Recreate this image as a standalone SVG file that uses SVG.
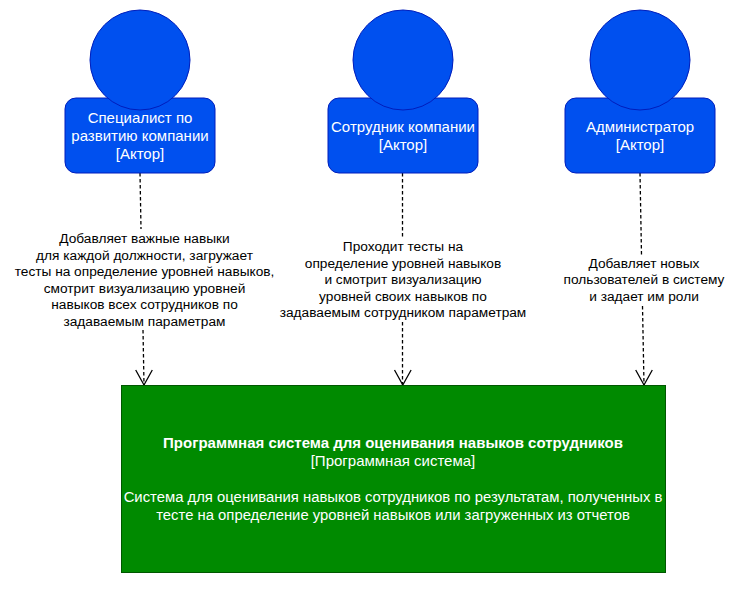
<svg xmlns="http://www.w3.org/2000/svg" width="741" height="595" viewBox="0 0 741 595">
<style>
text{font-family:"Liberation Sans",Arial,sans-serif;font-size:15px;text-anchor:middle}
.w{fill:#fff}.k{fill:#000;font-size:13.7px}.b{font-weight:bold}.d{font-size:14.85px}
.actor{fill:#0050ef;stroke:#001dbc;stroke-width:1}
.conn{fill:none;stroke:#000;stroke-width:1.300;stroke-dasharray:3.500 2.500}
.head{fill:none;stroke:#000;stroke-width:1.300}
</style>
<rect width="741" height="595" fill="#fff"/>
<g id="connectors">
<path class="conn" d="M140 173L141 229M143 330L144 385"/>
<path class="conn" d="M402.500 173V237M402.500 322V385"/>
<path class="conn" d="M640 173L641.500 255M642.500 306L644 385"/>
<path class="head" d="M135.700 370L144 385L152.300 370"/>
<path class="head" d="M394.500 370L402.800 385L411.100 370"/>
<path class="head" d="M635.700 370L644 385L652.300 370"/>
</g>
<g id="actor1">
<rect class="actor" x="65" y="98" width="150" height="75" rx="11"/>
<circle class="actor" cx="140" cy="60" r="50"/>
<text class="w" x="140" y="123">Специалист по</text>
<text class="w" x="140" y="141">развитию компании</text>
<text class="w" x="140" y="159">[Актор]</text>
</g>
<g id="actor2">
<rect class="actor" x="328" y="98" width="150" height="75" rx="11"/>
<circle class="actor" cx="403" cy="60" r="50"/>
<text class="w" x="403" y="132">Сотрудник компании</text>
<text class="w" x="403" y="150">[Актор]</text>
</g>
<g id="actor3">
<rect class="actor" x="565" y="98" width="150" height="75" rx="11"/>
<circle class="actor" cx="640" cy="60" r="50"/>
<text class="w" x="640" y="132">Администратор</text>
<text class="w" x="640" y="150">[Актор]</text>
</g>
<g id="system">
<rect x="121.500" y="385.500" width="544" height="187" fill="#008a00" stroke="#005700"/>
<text class="w b" x="393" y="447.500">Программная система для оценивания навыков сотрудников</text>
<text class="w" x="393" y="465.500">[Программная система]</text>
<text class="w d" x="393" y="501.500">Система для оценивания навыков сотрудников по результатам, полученных в</text>
<text class="w d" x="393" y="519.500">тесте на определение уровней навыков или загруженных из отчетов</text>
</g>
<g id="labels">
<text class="k" x="144.500" y="243">Добавляет важные навыки</text>
<text class="k" x="144.500" y="260">для каждой должности, загружает</text>
<text class="k" x="144.500" y="276">тесты на определение уровней навыков,</text>
<text class="k" x="144.500" y="293">смотрит визуализацию уровней</text>
<text class="k" x="144.500" y="309">навыков всех сотрудников по</text>
<text class="k" x="144.500" y="326">задаваемым параметрам</text>
<text class="k" x="403" y="251">Проходит тесты на</text>
<text class="k" x="403" y="268">определение уровней навыков</text>
<text class="k" x="403" y="284">и смотрит визуализацию</text>
<text class="k" x="403" y="301">уровней своих навыков по</text>
<text class="k" x="403" y="317">задаваемым сотрудником параметрам</text>
<text class="k" x="644" y="268">Добавляет новых</text>
<text class="k" x="644" y="284">пользователей в систему</text>
<text class="k" x="644" y="301">и задает им роли</text>
</g>
</svg>
